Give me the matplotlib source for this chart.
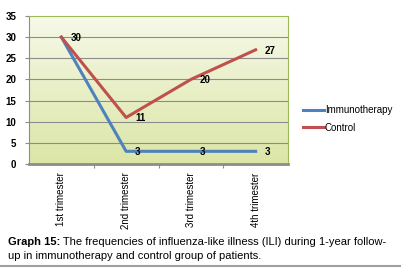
import numpy as np
import matplotlib.pyplot as plt
from matplotlib.colors import LinearSegmentedColormap

plt.rcParams['font.family'] = ['Liberation Sans', 'DejaVu Sans']

categories = ['1st trimester', '2nd trimester', '3rd trimester', '4th trimester']
immuno = [30, 3, 3, 3]
control = [30, 11, 20, 27]
labels = ['Immunotherapy', 'Control']

blue = '#4f81bd'
red = '#c0504d'

fig = plt.figure(figsize=(4.02, 2.71), dpi=100)
ax = fig.add_axes([29 / 402, 1 - 164 / 271, 259 / 402, 148 / 271])

x = np.arange(1, len(categories) + 1)

# gradient background
cmap = LinearSegmentedColormap.from_list('bg', ['#dbe6a6', '#f6f9e8'])
grad = np.linspace(0, 1, 256).reshape(-1, 1)
ax.imshow(grad, aspect='auto', cmap=cmap, origin='lower',
          extent=[0.5, 4.5, 0, 35], zorder=0)

for v in range(5, 35, 5):
    ax.axhline(v, color='#8c8c8c', lw=0.8, zorder=1)

l1, = ax.plot(x, immuno, color=blue, lw=2.2, zorder=3, label=labels[0])
l2, = ax.plot(x, control, color=red, lw=2.2, zorder=3, label=labels[1])

for xi, v in zip(x, control):
    ax.annotate(str(v), (xi, v), xytext=(6.5, -0.5), textcoords='offset points',
                fontsize=7, fontweight='bold', va='center', ha='left')
for xi, v in zip(x[1:], immuno[1:]):
    ax.annotate(str(v), (xi, v), xytext=(6.5, -0.5), textcoords='offset points',
                fontsize=7, fontweight='bold', va='center', ha='left')

ax.set_xlim(0.5, 4.5)
ax.set_ylim(0, 35)
ax.set_yticks(range(0, 36, 5))
ax.set_yticklabels([str(v) for v in range(0, 36, 5)], fontsize=7, fontweight='bold')
ax.set_xticks([1.5, 2.5, 3.5], minor=False)
ax.set_xticklabels([])
ax.set_xticks(x, minor=True)
ax.set_xticklabels(categories, minor=True, rotation=90, fontsize=7)
ax.tick_params(axis='x', which='minor', length=0, pad=6)
ax.tick_params(axis='x', which='major', length=3, color='#8c8c8c')
ax.tick_params(axis='y', length=3, color='#8c8c8c', pad=6)

ax.spines['top'].set_color('#9bbb59')
ax.spines['right'].set_color('#9bbb59')
ax.spines['left'].set_color('#8c8c8c')
ax.spines['bottom'].set_color('#8c8c8c')
ax.spines['bottom'].set_linewidth(2)
ax.spines['left'].set_linewidth(0.8)

fig.legend(handles=[l1, l2], loc='center left', bbox_to_anchor=(303 / 402, 1 - 119 / 271),
           frameon=False, handlelength=2.2, handletextpad=0.05, borderpad=0,
           borderaxespad=0, labelspacing=0.75, prop={'size': 7})

t1 = fig.text(8 / 402, 1 - 242 / 271, 'Graph 15:', fontsize=8, fontweight='bold', va='center')
fig.canvas.draw()
bb = t1.get_window_extent(fig.canvas.get_renderer())
fig.text(bb.x1 / 402, 1 - 242 / 271,
         ' The frequencies of influenza-like illness (ILI) during 1-year follow-',
         fontsize=8, va='center')
fig.text(8 / 402, 1 - 256 / 271, 'up in immunotherapy and control group of patients.',
         fontsize=8, va='center')
fig.add_artist(plt.Line2D([0, 1], [1 - 266 / 271] * 2, color='#a0a0a0', lw=1.5,
                          transform=fig.transFigure))

fig.savefig('out.png', dpi=100)
